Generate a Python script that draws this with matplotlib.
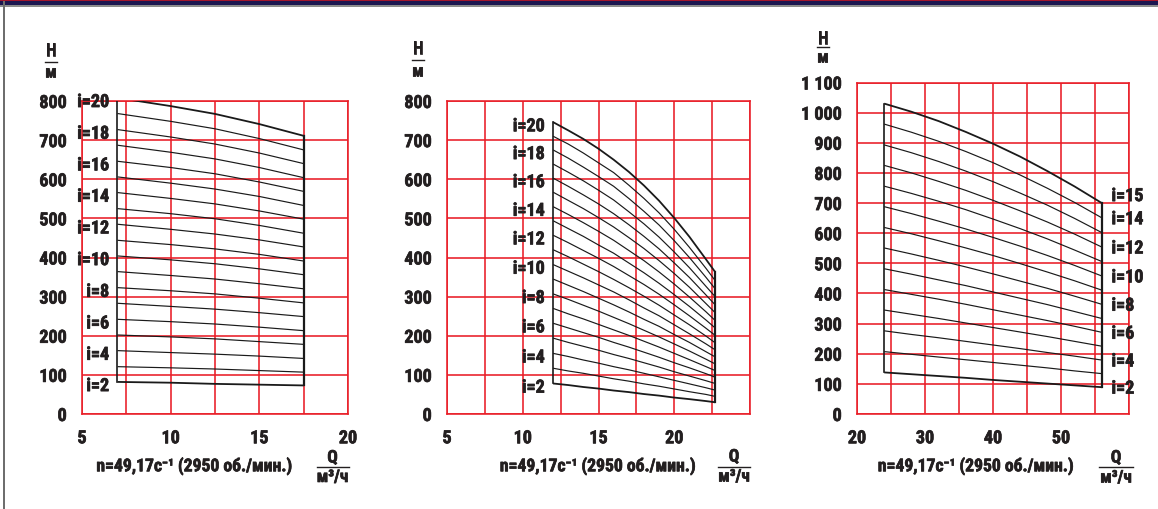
import matplotlib
matplotlib.use('Agg')
import matplotlib.pyplot as plt
from matplotlib import font_manager
from matplotlib import patheffects as pe
from matplotlib.lines import Line2D
from matplotlib.patches import Rectangle

# ---------------- data ----------------
# Panel 1
P1_Q = [7, 10, 12.5, 15, 17.5]
P1_STAGES = list(range(20, 1, -1))
P1_H = [
    [808, 787, 767, 741, 711],
    [768, 748, 729, 704, 675],
    [727, 708, 690, 667, 640],
    [687, 669, 652, 630, 604],
    [646, 630, 614, 593, 569],
    [606, 590, 575, 556, 533],
    [566, 551, 537, 519, 498],
    [525, 512, 499, 482, 462],
    [485, 472, 460, 445, 427],
    [444, 433, 422, 408, 391],
    [404, 394, 384, 371, 356],
    [364, 354, 345, 333, 320],
    [323, 315, 307, 296, 284],
    [283, 275, 268, 259, 249],
    [242, 236, 230, 222, 213],
    [202, 197, 192, 185, 178],
    [162, 157, 153, 148, 142],
    [121, 118, 115, 111, 107],
    [82, 80, 77, 75, 73],
]
P1_LABELS = [20, 18, 16, 14, 12, 10, 8, 6, 4, 2]
P1_XTICKS = [5, 10, 15, 20]
P1_YTICKS = [0, 100, 200, 300, 400, 500, 600, 700, 800]

# Panel 2
P2_Q = [12, 13, 14, 15, 16, 17, 18, 19, 20, 21, 22.1, 22.7]
P2_STAGES = list(range(20, 1, -1))
P2_H = [
    [746, 725, 703, 678, 650, 619, 584, 545, 501, 453, 395, 363],
    [710, 690, 667, 642, 617, 585, 551, 514, 472, 426, 372, 341],
    [675, 654, 631, 607, 582, 551, 518, 483, 443, 400, 349, 320],
    [639, 618, 596, 572, 547, 517, 486, 452, 414, 374, 326, 300],
    [603, 582, 560, 537, 512, 484, 454, 422, 386, 349, 304, 279],
    [567, 546, 525, 502, 478, 451, 423, 392, 359, 324, 282, 259],
    [530, 510, 489, 467, 444, 418, 392, 363, 332, 299, 261, 239],
    [494, 474, 454, 432, 411, 386, 361, 334, 305, 275, 240, 220],
    [457, 438, 418, 398, 377, 354, 331, 306, 279, 251, 219, 201],
    [420, 402, 383, 364, 344, 323, 301, 278, 253, 228, 199, 182],
    [382, 365, 348, 330, 312, 292, 271, 251, 228, 205, 179, 164],
    [345, 329, 313, 296, 279, 261, 242, 224, 203, 183, 159, 146],
    [307, 293, 278, 263, 247, 231, 214, 197, 179, 161, 140, 128],
    [270, 256, 243, 229, 215, 201, 186, 171, 155, 139, 121, 111],
    [232, 220, 208, 196, 183, 171, 158, 145, 131, 118, 103, 94],
    [194, 183, 173, 163, 152, 142, 131, 120, 108, 97, 85, 78],
    [155, 147, 138, 130, 121, 113, 104, 95, 86, 77, 67, 61],
    [117, 110, 104, 97, 90, 84, 77, 71, 64, 57, 50, 45],
    [78, 74, 69, 65, 60, 56, 51, 47, 42, 38, 33, 30],
]
P2_LABELS = [20, 18, 16, 14, 12, 10, 8, 6, 4, 2]
P2_XTICKS = [5, 10, 15, 20]
P2_YTICKS = [0, 100, 200, 300, 400, 500, 600, 700, 800]

# Panel 3
P3_Q = [24, 28, 32, 36, 40, 44, 48, 52, 56]
P3_STAGES = list(range(15, 1, -1))
P3_H = [
    [1030, 1003, 972, 936, 897, 854, 806, 755, 700],
    [962, 935, 905, 871, 834, 793, 749, 702, 651],
    [893, 867, 838, 806, 771, 733, 693, 649, 602],
    [825, 800, 772, 742, 709, 674, 637, 597, 554],
    [756, 732, 706, 678, 647, 615, 581, 544, 506],
    [688, 665, 640, 614, 586, 557, 526, 493, 458],
    [619, 598, 575, 551, 526, 499, 471, 442, 411],
    [551, 531, 510, 488, 465, 441, 417, 391, 364],
    [482, 464, 445, 426, 405, 384, 363, 340, 317],
    [413, 397, 381, 364, 346, 328, 310, 291, 271],
    [345, 331, 317, 302, 287, 272, 257, 241, 225],
    [276, 264, 253, 241, 229, 217, 204, 192, 179],
    [207, 198, 189, 180, 171, 162, 153, 143, 134],
    [138, 132, 126, 120, 113, 107, 101, 95, 89],
]
P3_LABELS = [15, 14, 12, 10, 8, 6, 4, 2]
P3_XTICKS = [20, 30, 40, 50]
P3_YTICKS = [0, 100, 200, 300, 400, 500, 600, 700, 800, 900, 1000, 1100]
P3_YTICKLABELS = ['0', '100', '200', '300', '400', '500', '600', '700',
                  '800', '900', '1 000', '1 100']

X_TITLE = 'n=49,17c\u207b\u00b9 (2950 об./мин.)'
Y_NUM, Y_DEN = 'Н', 'м'
X_NUM, X_DEN = 'Q', 'м\u00b3/ч'

# ---------------- font choice ----------------
def _is_bold(f):
    w = f.weight
    if isinstance(w, str):
        return 'bold' in w.lower() or w.lower() in ('heavy', 'black')
    return w >= 600


def pick_font():
    entries = font_manager.fontManager.ttflist
    order = ['robotocondensed-bold', 'robotocondensed', 'liberationsansnarrow',
             'notosans-condensed', 'opensans-condensed', 'dejavusanscondensed']
    for key in order:
        for f in entries:
            base = f.fname.lower().replace('_', '').replace(' ', '').rsplit('/', 1)[-1]
            if base.startswith(key) and _is_bold(f) and 'italic' not in base \
                    and 'oblique' not in base:
                return f
    return None


CHOSEN = pick_font()
if CHOSEN is not None:
    plt.rcParams['font.family'] = [CHOSEN.name, 'DejaVu Sans']
    plt.rcParams['font.stretch'] = CHOSEN.stretch
    plt.rcParams['font.weight'] = CHOSEN.weight
else:
    plt.rcParams['font.family'] = ['DejaVu Sans']
    plt.rcParams['font.stretch'] = 'condensed'
    plt.rcParams['font.weight'] = 'bold'

RED = '#e91d27'
INK = '#231f20'
LINE = '#1a1a1a'
W, H = 1158, 509
FS = 13
HEAVY = [pe.withStroke(linewidth=0.5, foreground=INK)]

fig = plt.figure(figsize=(W / 100, H / 100), dpi=100)
fig.patch.set_facecolor('white')


def fx(px):
    return px / W


def fy(py):
    return 1 - py / H


# header band and left border
fig.patches.append(Rectangle((0, fy(6.5)), 1, 6.5 / H, transform=fig.transFigure,
                             facecolor='#8c8c8c', edgecolor='none', zorder=0))
fig.patches.append(Rectangle((0, fy(5.3)), 1, 5.3 / H, transform=fig.transFigure,
                             facecolor='#1b1650', edgecolor='none', zorder=1))
fig.patches.append(Rectangle((0, fy(1.3)), 1, 1.3 / H, transform=fig.transFigure,
                             facecolor='#a3152b', edgecolor='none', zorder=2))
fig.patches.append(Rectangle((fx(3), 0), 1.6 / W, 1, transform=fig.transFigure,
                             facecolor='#6e6e6e', edgecolor='none', zorder=1))


def make_panel(rect_px, xlim, ylim, xgrid, ygrid, xticks, yticks, yticklabels,
               Q, stages, Hs, labels, label_side):
    x0, x1, ytop, ybot = rect_px
    ax = fig.add_axes([fx(x0), fy(ybot), (x1 - x0) / W, (ybot - ytop) / H])
    ax.set_xlim(*xlim)
    ax.set_ylim(*ylim)
    for g in xgrid:
        ax.axvline(g, color=RED, lw=1.15, zorder=1)
    for g in ygrid:
        ax.axhline(g, color=RED, lw=1.15, zorder=1)
    for s in ax.spines.values():
        s.set_color(RED)
        s.set_linewidth(1.15)
    ax.set_xticks(xticks)
    ax.set_xticklabels([str(t) for t in xticks])
    ax.set_yticks(yticks)
    ax.set_yticklabels(yticklabels)
    ax.tick_params(length=0, labelsize=FS, colors=INK)
    ax.tick_params(axis='x', pad=11)
    ax.tick_params(axis='y', pad=11)
    for t in ax.get_xticklabels() + ax.get_yticklabels():
        t.set_path_effects(HEAVY)

    n = len(Hs)
    for k, (st, h) in enumerate(zip(stages, Hs)):
        lw = 1.3 if k in (0, n - 1) else 0.85
        ax.plot(Q, h, color=LINE, lw=lw, zorder=3, solid_capstyle='butt',
                solid_joinstyle='round')
    # frame verticals
    ax.plot([Q[0], Q[0]], [Hs[-1][0], Hs[0][0]], color=LINE, lw=1.2, zorder=3)
    ax.plot([Q[-1], Q[-1]], [Hs[-1][-1], Hs[0][-1]], color=LINE, lw=1.6, zorder=3)

    for lab in labels:
        h = Hs[stages.index(lab)]
        if label_side == 'left':
            ax.annotate(f'i={lab}', xy=(Q[0], h[0]), xytext=(-6, -3),
                        textcoords='offset points', ha='right', va='center',
                        fontsize=FS, color=INK, zorder=5,
                        annotation_clip=False, path_effects=HEAVY)
        else:
            dy = 5 if lab == labels[0] else -1
            ax.annotate(f'i={lab}', xy=(Q[-1], h[-1]), xytext=(7, dy),
                        textcoords='offset points', ha='left', va='center',
                        fontsize=FS, color=INK, zorder=5,
                        annotation_clip=False, path_effects=HEAVY)
    return ax


def frac(xc, y_num, y_line, y_den, half, num, den):
    fig.text(fx(xc), fy(y_num), num, ha='center', va='center', fontsize=FS - 0.5,
             color=INK, path_effects=HEAVY)
    fig.add_artist(Line2D([fx(xc - half), fx(xc + half)], [fy(y_line), fy(y_line)],
                          transform=fig.transFigure, color=INK, lw=1.0))
    fig.text(fx(xc), fy(y_den), den, ha='center', va='center', fontsize=FS - 0.5,
             color=INK, path_effects=HEAVY)


# Panel 1
make_panel((82, 348, 101, 414), (5, 20), (0, 800),
           [5, 7.5, 10, 12.5, 15, 17.5, 20], P1_YTICKS,
           P1_XTICKS, P1_YTICKS, [str(v) for v in P1_YTICKS],
           P1_Q, P1_STAGES, P1_H, P1_LABELS, 'left')
# Panel 2
make_panel((447, 750, 101, 414), (5, 25), (0, 800),
           [5 + 2.5 * k for k in range(9)], P2_YTICKS,
           P2_XTICKS, P2_YTICKS, [str(v) for v in P2_YTICKS],
           P2_Q, P2_STAGES, P2_H, P2_LABELS, 'left')
# Panel 3
make_panel((857, 1129, 82.5, 414), (20, 60), (0, 1100),
           [20 + 5 * k for k in range(9)], P3_YTICKS,
           P3_XTICKS, P3_YTICKS, P3_YTICKLABELS,
           P3_Q, P3_STAGES, P3_H, P3_LABELS, 'right')

# axis titles
for xc in (194.5, 598, 976):
    fig.text(fx(xc), fy(466), X_TITLE, ha='center', va='center', fontsize=FS - 0.3,
             color=INK, path_effects=HEAVY)
frac(51, 51, 61.5, 73, 6, Y_NUM, Y_DEN)
frac(418, 49, 59.5, 72, 6, Y_NUM, Y_DEN)
frac(823, 39, 46.7, 58, 6, Y_NUM, Y_DEN)
frac(332.5, 458, 466.7, 477.5, 16, X_NUM, X_DEN)
frac(734, 457, 466.7, 477, 16, X_NUM, X_DEN)
frac(1116, 458, 466.7, 478, 17, X_NUM, X_DEN)

fig.savefig('out.png', dpi=100, facecolor='white')
